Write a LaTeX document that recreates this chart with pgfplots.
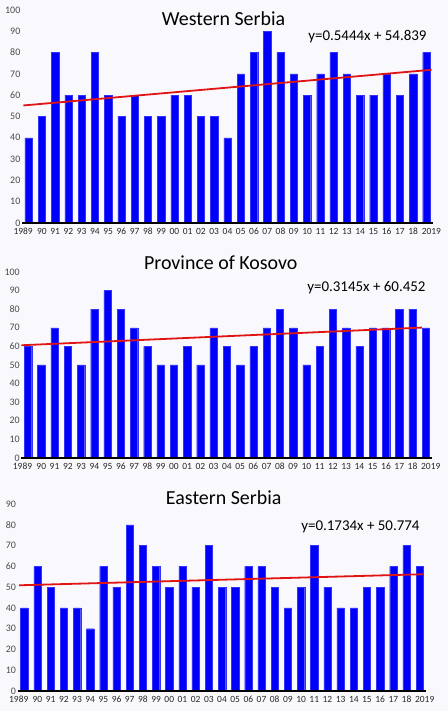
\documentclass[border=0pt]{standalone}
\usepackage{fontspec}
\setmainfont{Carlito}
\usepackage{pgfplots}
\pgfplotsset{compat=1.18}
\usepackage{pgfplotstable}

\definecolor{barblue}{RGB}{0,0,250}
\definecolor{trendred}{RGB}{225,20,20}
\definecolor{tickgray}{RGB}{75,75,75}
\definecolor{bg}{RGB}{249,249,253}

\pgfplotstableread{
x  w  k  e
1  40 60 40
2  50 50 60
3  80 70 50
4  60 60 40
5  60 50 40
6  80 80 30
7  60 90 60
8  50 80 50
9  60 70 80
10 50 60 70
11 50 50 60
12 60 50 50
13 60 60 60
14 50 50 50
15 50 70 70
16 40 60 50
17 70 50 50
18 80 60 60
19 90 70 60
20 80 80 50
21 70 70 40
22 60 50 50
23 70 60 70
24 80 80 50
25 70 70 40
26 60 60 40
27 60 70 50
28 70 70 50
29 60 80 60
30 70 80 70
31 80 70 60
}\data

\pgfplotsset{
 panel/.style={
  scale only axis, xmin=0.5, xmax=31.5, ymin=0,
  anchor=south west,
  axis x line=bottom, axis y line=left,
  axis line style={-},
  y axis line style={draw=none},
  x axis line style={line width=1.6bp, black},
  major tick length=0pt,
  xtick={1,...,31},
  xticklabels={\makebox[0pt]{\kern-11bp 1989},90,91,92,93,94,95,96,97,98,99,00,01,02,03,04,05,06,07,08,09,10,11,12,13,14,15,16,17,18,\makebox[0pt]{2019\kern-10bp}},
  xticklabel style={font=\fontsize{9.5}{10}\selectfont, text=black!85, inner xsep=1bp, inner ysep=0.5bp, anchor=north, yshift=-4.5bp},
  yticklabel style={font=\fontsize{10}{11}\selectfont, text=tickgray, inner xsep=1.5bp, inner ysep=0pt},
  /pgf/number format/assume math mode=true,
  axis on top,
  clip=false,
 },
 bars/.style={ybar, bar width=7.3bp, bar shift=0pt, fill=barblue, draw=barblue!80!white, line width=0.3bp},
 trend/.style={trendred, line width=1.8bp, no marks},
}

\begin{document}
\begin{tikzpicture}[x=1bp,y=1bp]
\fill[bg] (0,0) rectangle (448,711);
\useasboundingbox (0,0) rectangle (448,711);

% Western Serbia
\begin{axis}[panel, at={(22bp,488bp)}, width=411bp, height=213bp, ymax=100, ytick={0,10,...,100}]
\addplot[bars] table[x=x,y=w]{\data};
\addplot[trend] coordinates {(0.6,55.17) (31.4,71.93)};
\end{axis}
\node[anchor=base, font=\fontsize{20}{22}\selectfont] at (223.5,685) {Western Serbia};
\node[anchor=base east, font=\fontsize{15}{17}\selectfont] at (430,670.3) {y=0.5444x + 54.839};

% Province of Kosovo
\begin{axis}[panel, at={(21.4bp,253bp)}, width=411bp, height=186bp, ymax=100, ytick={0,10,...,100}]
\addplot[bars] table[x=x,y=k]{\data};
\addplot[trend] coordinates {(0.5,60.61) (30.7,70.11)};
\end{axis}
\node[anchor=base, font=\fontsize{20}{22}\selectfont] at (220.8,441.3) {Province of Kosovo};
\node[anchor=base east, font=\fontsize{15}{17}\selectfont] at (429,419.3) {y=0.3145x + 60.452};

% Eastern Serbia
\begin{axis}[panel, at={(17.7bp,20bp)}, width=408.6bp, height=187bp, ymax=90, ytick={0,10,...,90}]
\addplot[bars] table[x=x,y=e]{\data};
\addplot[trend] coordinates {(0.6,50.88) (31.3,56.20)};
\end{axis}
\node[anchor=base, font=\fontsize{20}{22}\selectfont] at (223.7,206) {Eastern Serbia};
\node[anchor=base east, font=\fontsize{15}{17}\selectfont] at (423,180) {y=0.1734x + 50.774};
\end{tikzpicture}
\end{document}
